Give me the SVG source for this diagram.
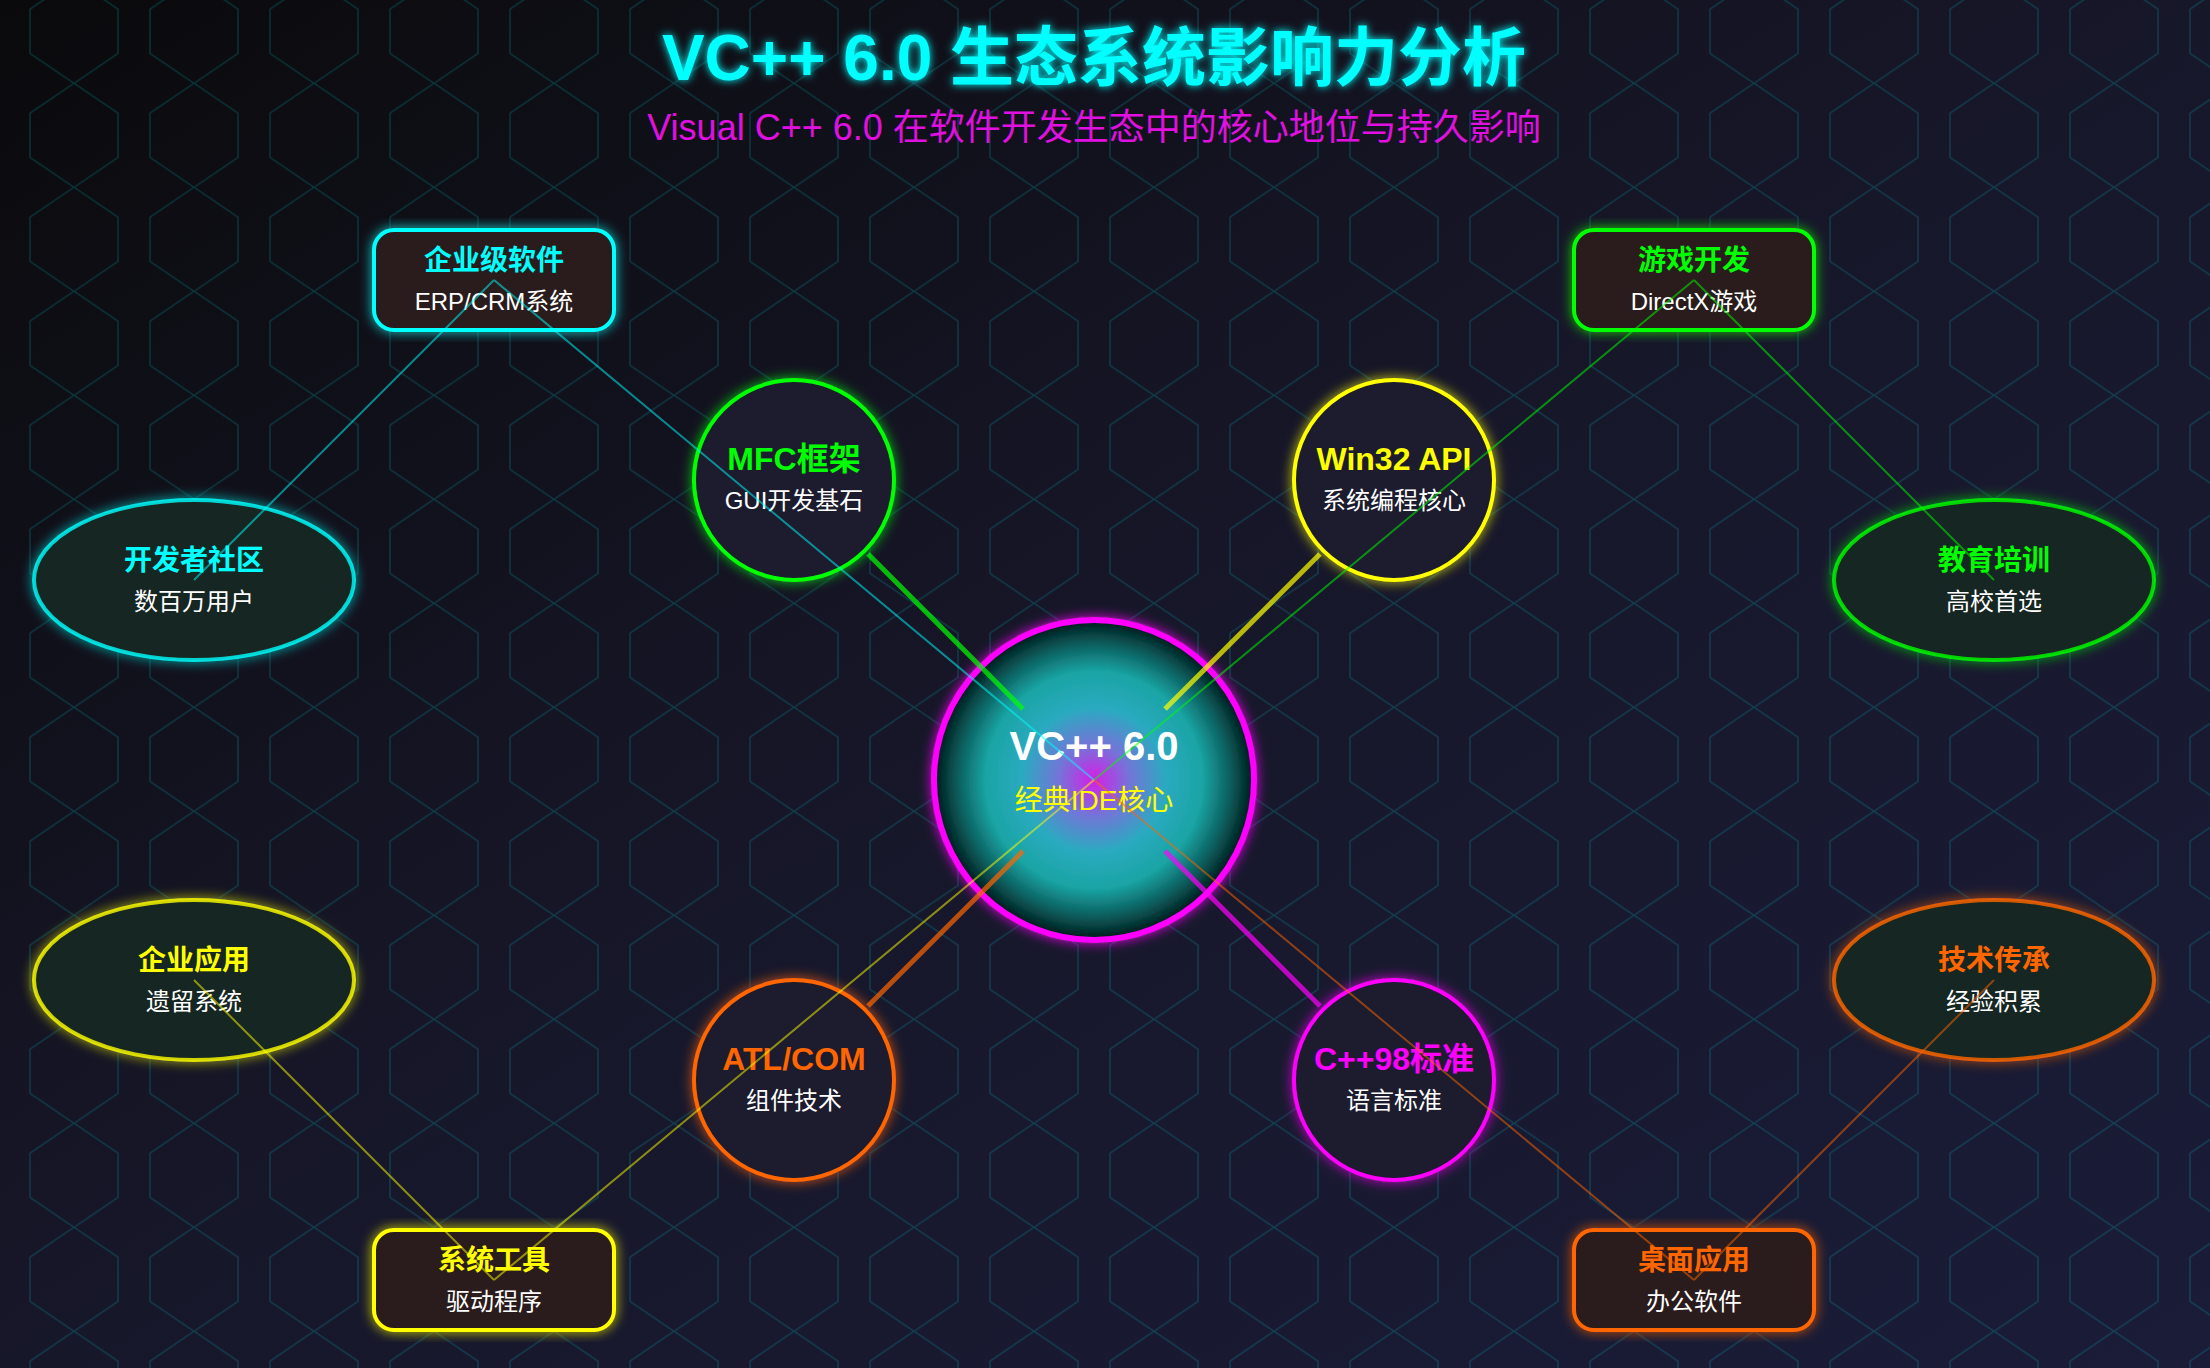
<svg xmlns="http://www.w3.org/2000/svg" width="2210" height="1368" viewBox="0 0 2210 1368">
<defs>
<linearGradient id="bg" x1="0" y1="0" x2="1" y2="1">
<stop offset="0" stop-color="#0a0a0c"/>
<stop offset="0.5" stop-color="#17172a"/>
<stop offset="1" stop-color="#1a1c38"/>
</linearGradient>
<pattern id="hex" width="120" height="104" patternUnits="userSpaceOnUse" y="-20.7">
<polygon points="74,0 118,30 118,74 74,104 30,74 30,30" fill="none" stroke="#00ffff" stroke-opacity="0.16" stroke-width="1.5"/>
</pattern>
<radialGradient id="core" cx="0.5" cy="0.5" r="0.5">
<stop offset="0" stop-color="#d61ee8"/>
<stop offset="0.22" stop-color="#7474d8"/>
<stop offset="0.45" stop-color="#2aaac0"/>
<stop offset="0.68" stop-color="#1aa4a4"/>
<stop offset="0.86" stop-color="#0b5a5a"/>
<stop offset="1" stop-color="#001818"/>
</radialGradient>
<filter id="glow" x="-12%" y="-12%" width="124%" height="124%">
<feGaussianBlur in="SourceGraphic" stdDeviation="6" result="b"/>
<feMerge><feMergeNode in="b"/><feMergeNode in="SourceGraphic"/></feMerge>
</filter>
<filter id="tglow" x="-5%" y="-30%" width="110%" height="160%">
<feGaussianBlur in="SourceGraphic" stdDeviation="4" result="b"/>
<feMerge><feMergeNode in="b"/><feMergeNode in="SourceGraphic"/></feMerge>
</filter>
<style>
text{font-family:'Liberation Sans','Noto Sans CJK SC',sans-serif;text-anchor:middle}
.title{font-size:64px;font-weight:bold;fill:#00ffff}
.sub{font-size:36px;fill:#e010e0}
.h{font-size:28px;font-weight:bold}
.ch{font-size:32px;font-weight:bold}
.s{font-size:24px;fill:#ffffff}
.box{fill:#2c1c1c;stroke-width:4}
.ell{fill:#182820;stroke-width:4;stroke-opacity:0.8}
.cir{fill:#1b1b2f;stroke-width:4}
.thin{stroke-width:2;stroke-opacity:0.5;fill:none}
.thick{stroke-width:5;stroke-opacity:0.7;fill:none}
</style>
</defs>
<rect width="2210" height="1368" fill="url(#bg)"/>
<rect width="2210" height="1368" fill="url(#hex)"/>

<g id="title">
<text x="1094" y="80" class="title" filter="url(#tglow)">VC++ 6.0 生态系统影响力分析</text>
<text x="1094" y="140" class="sub">Visual C++ 6.0 在软件开发生态中的核心地位与持久影响</text>
</g>

<g id="node-core">
<circle cx="1094" cy="780" r="160" fill="url(#core)" stroke="#ff00ff" stroke-width="6" filter="url(#glow)"/>
<text x="1094" y="760" style="font-size:40px;font-weight:bold;fill:#ffffff">VC++ 6.0</text>
<text x="1094" y="810" style="font-size:28px;fill:#ffff00">经典IDE核心</text>
</g>

<g id="node-mfc">
<circle cx="794" cy="480" r="100" class="cir" stroke="#00ff00" filter="url(#glow)"/>
<text x="794" y="470" class="ch" fill="#00ff00">MFC框架</text>
<text x="794" y="509" class="s">GUI开发基石</text>
</g>
<g id="node-win32">
<circle cx="1394" cy="480" r="100" class="cir" stroke="#ffff00" filter="url(#glow)"/>
<text x="1394" y="470" class="ch" fill="#ffff00">Win32 API</text>
<text x="1394" y="509" class="s">系统编程核心</text>
</g>
<g id="node-atl">
<circle cx="794" cy="1080" r="100" class="cir" stroke="#ff6600" filter="url(#glow)"/>
<text x="794" y="1070" class="ch" fill="#ff6600">ATL/COM</text>
<text x="794" y="1109" class="s">组件技术</text>
</g>
<g id="node-cpp98">
<circle cx="1394" cy="1080" r="100" class="cir" stroke="#ff00ff" filter="url(#glow)"/>
<text x="1394" y="1070" class="ch" fill="#ff00ff">C++98标准</text>
<text x="1394" y="1109" class="s">语言标准</text>
</g>

<g id="node-enterprise-sw">
<rect x="374" y="230" width="240" height="100" rx="20" class="box" stroke="#00ffff" filter="url(#glow)"/>
<text x="494" y="270" class="h" fill="#00ffff">企业级软件</text>
<text x="494" y="310" class="s">ERP/CRM系统</text>
</g>
<g id="node-game">
<rect x="1574" y="230" width="240" height="100" rx="20" class="box" stroke="#00ff00" filter="url(#glow)"/>
<text x="1694" y="270" class="h" fill="#00ff00">游戏开发</text>
<text x="1694" y="310" class="s">DirectX游戏</text>
</g>
<g id="node-systools">
<rect x="374" y="1230" width="240" height="100" rx="20" class="box" stroke="#ffff00" filter="url(#glow)"/>
<text x="494" y="1270" class="h" fill="#ffff00">系统工具</text>
<text x="494" y="1310" class="s">驱动程序</text>
</g>
<g id="node-desktop">
<rect x="1574" y="1230" width="240" height="100" rx="20" class="box" stroke="#ff6600" filter="url(#glow)"/>
<text x="1694" y="1270" class="h" fill="#ff6600">桌面应用</text>
<text x="1694" y="1310" class="s">办公软件</text>
</g>

<g id="node-community">
<ellipse cx="194" cy="580" rx="160" ry="80" class="ell" stroke="#00ffff" filter="url(#glow)"/>
<text x="194" y="570" class="h" fill="#00ffff">开发者社区</text>
<text x="194" y="610" class="s">数百万用户</text>
</g>
<g id="node-education">
<ellipse cx="1994" cy="580" rx="160" ry="80" class="ell" stroke="#00ff00" filter="url(#glow)"/>
<text x="1994" y="570" class="h" fill="#00ff00">教育培训</text>
<text x="1994" y="610" class="s">高校首选</text>
</g>
<g id="node-enterprise-app">
<ellipse cx="194" cy="980" rx="160" ry="80" class="ell" stroke="#ffff00" filter="url(#glow)"/>
<text x="194" y="970" class="h" fill="#ffff00">企业应用</text>
<text x="194" y="1010" class="s">遗留系统</text>
</g>
<g id="node-legacy">
<ellipse cx="1994" cy="980" rx="160" ry="80" class="ell" stroke="#ff6600" filter="url(#glow)"/>
<text x="1994" y="970" class="h" fill="#ff6600">技术传承</text>
<text x="1994" y="1010" class="s">经验积累</text>
</g>

<g id="connectors">
<path class="thin" stroke="#00ffff" d="M494,280 L194,580 M494,280 L1094,780"/>
<path class="thin" stroke="#00ff00" d="M1694,280 L1994,580 M1694,280 L1094,780"/>
<path class="thin" stroke="#ffff00" d="M494,1280 L194,980 M494,1280 L1094,780"/>
<path class="thin" stroke="#ff6600" d="M1694,1280 L1994,980 M1694,1280 L1094,780"/>
<path class="thick" stroke="#00ff00" d="M868,554 L1023,709"/>
<path class="thick" stroke="#ffff00" d="M1320,554 L1165,709"/>
<path class="thick" stroke="#ff6600" d="M868,1006 L1023,851"/>
<path class="thick" stroke="#ff00ff" d="M1320,1006 L1165,851"/>
</g>
</svg>
